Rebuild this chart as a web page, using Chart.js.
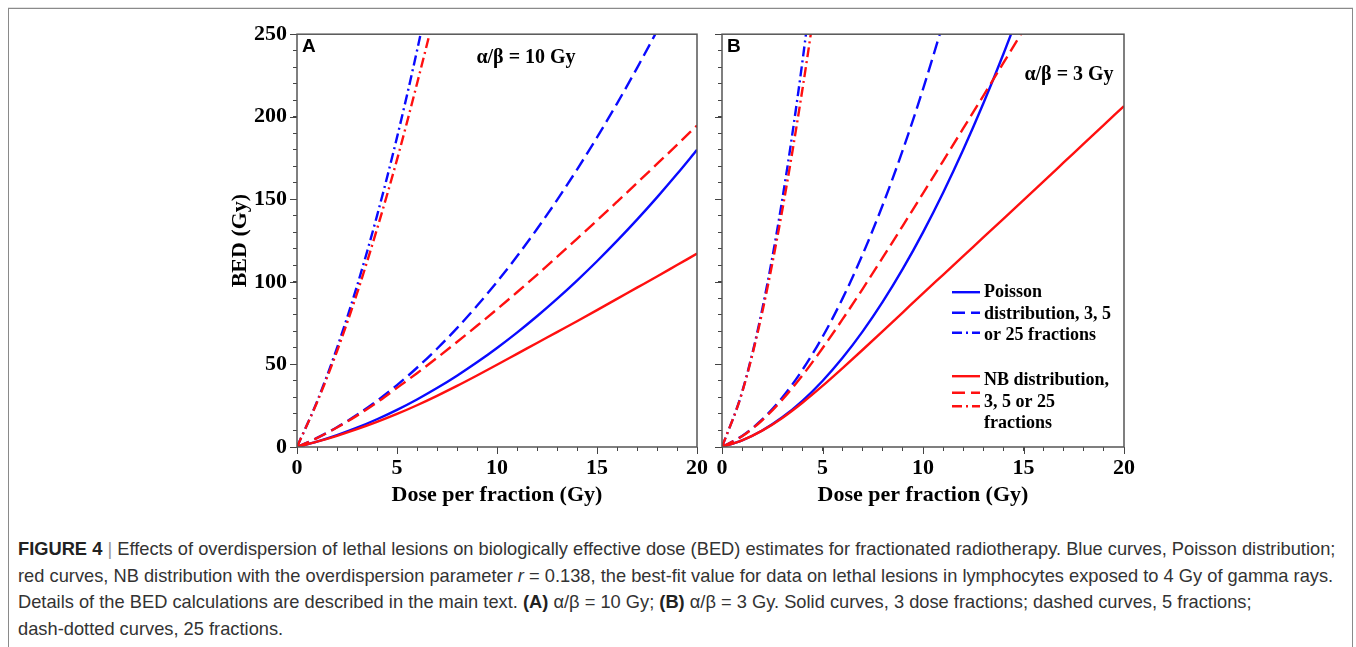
<!DOCTYPE html>
<html>
<head>
<meta charset="utf-8">
<script src="https://cdn.jsdelivr.net/npm/chart.js@4.4.1/dist/chart.umd.min.js"></script>
<style>
  body { margin: 0; background: #fff; width: 1356px; height: 647px; overflow: hidden; position: relative; }
  .frame { position: absolute; left: 8px; top: 8px; width: 1343px; height: 700px;
           border: 1.5px solid #8a8a8a; box-shadow: 0 -1px 0 #e2e2e2; }
  .panel { position: absolute; top: 15px; }
  #wrapA { left: 200px; }
  #wrapB { left: 640px; }
  .caption { position: absolute; left: 18px; top: 536px; color: #333; transform-origin: 0 0;
             font-family: "Liberation Sans Narrow", "Arial Narrow", "Liberation Sans", sans-serif;
             font-size: 19px; line-height: 26.5px; white-space: nowrap; }
  .caption b { color: #222; }
  .caption .bar { color: #999; font-weight: normal; }
</style>
</head>
<body>
<div class="frame"></div>
<div class="panel" id="wrapA"><canvas id="chartA" width="520" height="505"></canvas></div>
<div class="panel" id="wrapB"><canvas id="chartB" width="510" height="505"></canvas></div>
<div class="caption" id="caption">
  <div id="capFirst"><b>FIGURE 4</b> <span class="bar">|</span> Effects of overdispersion of lethal lesions on biologically effective dose (BED) estimates for fractionated radiotherapy. Blue curves, Poisson distribution;</div>
  <div>red curves, NB distribution with the overdispersion parameter <i>r</i> = 0.138, the best-fit value for data on lethal lesions in lymphocytes exposed to 4 Gy of gamma rays.</div>
  <div>Details of the BED calculations are described in the main text. <b>(A)</b> α/β = 10 Gy; <b>(B)</b> α/β = 3 Gy. Solid curves, 3 dose fractions; dashed curves, 5 fractions;</div>
  <div>dash-dotted curves, 25 fractions.</div>
</div>

<script>
// dose per fraction (Gy), shared x values
const doses = [0, 1, 2, 3, 4, 5, 6, 7, 8, 9, 10, 11, 12, 13, 14, 15, 16, 17, 18, 19, 20];

// Panel A, alpha/beta = 10 Gy (BED, Gy)
const poisson3A  = [0, 3.3, 7.2, 11.7, 16.8, 22.5, 28.8, 35.7, 43.2, 51.3, 60, 69.3, 79.2, 89.7, 100.8, 112.5, 124.8, 137.7, 151.2, 165.3, 180];
const poisson5A  = [0, 5.5, 12, 19.5, 28, 37.5, 48, 59.5, 72, 85.5, 100, 115.5, 132, 149.5, 168, 187.5, 208, 229.5, 252, 275.5];
const poisson25A = [0, 27.5, 60, 97.5, 140, 187.5, 240, 297.5];
const nb3A       = [0, 3.2, 6.8, 10.8, 15.2, 20, 25.3, 31, 37, 43.3, 49.8, 56.4, 63, 69.6, 76.2, 82.9, 89.7, 96.5, 103.3, 110.2, 117.1];
const nb5A       = [0, 5.4, 11.8, 19, 27, 35.8, 44.7, 54, 63.6, 73.4, 83.4, 93.7, 104.3, 115.1, 126.1, 137.2, 148.5, 159.9, 171.4, 183, 194.7];
const nb25A      = [0, 27, 58, 93, 132, 174, 220, 268];

// Panel B, alpha/beta = 3 Gy (BED, Gy)
const poisson3B  = [0, 4, 10, 18, 28, 40, 54, 70, 88, 108, 130, 154, 180, 208, 238, 270];
const poisson5B  = [0, 6.7, 16.7, 30, 46.7, 66.7, 90, 116.7, 146.7, 180, 216.7, 256.7];
const poisson25B = [0, 33.3, 83.3, 150, 233.3, 333.3];
const nb3B       = [0, 4, 9.9, 17.6, 26.8, 37, 47.8, 58.9, 70.2, 81.6, 93, 104.3, 115.6, 126.9, 138.2, 149.5, 160.9, 172.3, 183.7, 195.1, 206.5];
const nb5B       = [0, 6.5, 16.2, 28.7, 43.3, 59.8, 77.4, 95.8, 114.8, 134.1, 153.6, 173.2, 192.9, 212.7, 232.6, 252.6];
const nb25B      = [0, 33, 81.5, 143.5, 216.5, 298.5];

// tick labels
const xTickLabels = [0, 5, 10, 15, 20];
const yTickLabels = [0, 50, 100, 150, 200, 250];

const BLUE = '#0a0aff';
const RED  = '#ff1010';
const DASH = [13, 6];
const DASHDOT = [10, 4, 2, 4];
const SERIF = '"Liberation Serif", "Times New Roman", serif';

// no narrow sans installed: squeeze the caption to the width of the original
const capFirst = document.getElementById('capFirst');
const capScale = 1317 / capFirst.scrollWidth;
document.getElementById('caption').style.transform = 'scaleX(' + Math.min(1, capScale) + ')';

function series(values, color, dash) {
  return {
    data: values.map((v, i) => ({ x: doses[i], y: v })),
    borderColor: color,
    borderWidth: 2.4,
    borderDash: dash,
    pointRadius: 0,
    fill: false,
    cubicInterpolationMode: 'monotone'
  };
}

// box round the plot + longer major ticks
const framePlugin = {
  id: 'frame',
  afterDraw(chart) {
    const { ctx, chartArea: a, scales } = chart;
    ctx.save();
    ctx.strokeStyle = '#444';
    ctx.lineWidth = 1;
    ctx.beginPath();
    xTickLabels.forEach(v => {
      const px = Math.round(scales.x.getPixelForValue(v)) + 0.5;
      ctx.moveTo(px, a.bottom); ctx.lineTo(px, a.bottom + 7);
    });
    yTickLabels.forEach(v => {
      const py = Math.round(scales.y.getPixelForValue(v)) + 0.5;
      ctx.moveTo(a.left - 7, py); ctx.lineTo(a.left, py);
    });
    ctx.stroke();
    ctx.strokeStyle = '#555';
    ctx.lineWidth = 1.5;
    ctx.strokeRect(a.left, a.top, a.right - a.left, a.bottom - a.top);
    ctx.restore();
  }
};

// panel letter, alpha/beta note and (panel B) the legend
const notesPlugin = {
  id: 'notes',
  afterDraw(chart, args, opts) {
    const { ctx, chartArea: a } = chart;
    ctx.save();
    ctx.fillStyle = '#000';
    ctx.textBaseline = 'top';
    ctx.textAlign = 'left';
    ctx.font = 'bold 19px "Liberation Sans", Arial, sans-serif';
    ctx.fillText(opts.letter, a.left + 5, a.top + 3);
    ctx.textBaseline = 'middle';
    ctx.textAlign = 'center';
    ctx.font = 'bold 20px ' + SERIF;
    ctx.fillText(opts.note, a.left + opts.noteX, a.top + opts.noteY);

    if (opts.legend) {
      const rows = [
        { color: BLUE, lines: [[258, []], [278.5, DASH], [298.5, DASHDOT]],
          text: [[258, 'Poisson'], [280, 'distribution, 3, 5'], [301, 'or 25 fractions']] },
        { color: RED, lines: [[342, []], [358.5, DASH], [372, DASHDOT]],
          text: [[346, 'NB distribution,'], [368, '3, 5 or 25'], [389, 'fractions']] }
      ];
      ctx.textAlign = 'left';
      ctx.font = 'bold 18px ' + SERIF;
      rows.forEach(r => {
        ctx.strokeStyle = r.color;
        ctx.lineWidth = 2.4;
        r.lines.forEach(([dy, dash]) => {
          ctx.setLineDash(dash);
          ctx.beginPath();
          ctx.moveTo(a.left + 230, a.top + dy);
          ctx.lineTo(a.left + 258, a.top + dy);
          ctx.stroke();
        });
        ctx.setLineDash([]);
        r.text.forEach(([dy, t]) => ctx.fillText(t, a.left + 262, a.top + dy));
      });
    }
    ctx.restore();
  }
};

function makePanel(id, datasets, o) {
  return new Chart(document.getElementById(id), {
    type: 'line',
    data: { datasets },
    plugins: [framePlugin, notesPlugin],
    options: {
      responsive: false,
      animation: false,
      devicePixelRatio: 1,
      layout: { padding: { top: 13, right: o.padRight, left: 0, bottom: 0 } },
      plugins: {
        legend: { display: false },
        tooltip: { enabled: false },
        notes: o.notes
      },
      scales: {
        x: {
          type: 'linear', min: 0, max: 20,
          border: { display: false },
          grid: { drawOnChartArea: false, tickLength: 4, color: '#444', lineWidth: 1 },
          ticks: {
            stepSize: 1, autoSkip: false, maxRotation: 0, padding: 4, color: '#000',
            font: { family: SERIF, weight: 'bold', size: 22 },
            callback: v => xTickLabels.includes(v) ? String(v) : ''
          },
          title: {
            display: true, text: 'Dose per fraction (Gy)', color: '#000',
            font: { family: SERIF, weight: 'bold', size: 22 },
            padding: { top: 0, bottom: 11 }
          },
          afterFit: s => { s.height = 73; }
        },
        y: {
          type: 'linear', min: 0, max: 250,
          border: { display: false },
          grid: { drawOnChartArea: false, tickLength: 4, color: '#444', lineWidth: 1 },
          ticks: {
            stepSize: 10, autoSkip: false, padding: 6, color: '#000',
            font: { family: SERIF, weight: 'bold', size: 22 },
            callback: v => (o.yLabels && yTickLabels.includes(v)) ? String(v) : ''
          },
          title: {
            display: o.yLabels, text: 'BED (Gy)', color: '#000',
            font: { family: SERIF, weight: 'bold', size: 22 },
            padding: { top: 27, bottom: 0 }
          },
          afterFit: s => { s.width = o.yWidth; }
        }
      }
    }
  });
}

makePanel('chartA', [
  series(nb3A, RED, []),
  series(nb5A, RED, DASH),
  series(nb25A, RED, DASHDOT),
  series(poisson3A, BLUE, []),
  series(poisson5A, BLUE, DASH),
  series(poisson25A, BLUE, DASHDOT)
], {
  padRight: 23, yWidth: 97, yLabels: true,
  notes: { letter: 'A', note: 'α/β = 10 Gy', noteX: 229, noteY: 24, legend: false }
});

makePanel('chartB', [
  series(nb3B, RED, []),
  series(nb5B, RED, DASH),
  series(nb25B, RED, DASHDOT),
  series(poisson3B, BLUE, []),
  series(poisson5B, BLUE, DASH),
  series(poisson25B, BLUE, DASHDOT)
], {
  padRight: 26, yWidth: 82, yLabels: false,
  notes: { letter: 'B', note: 'α/β = 3 Gy', noteX: 347, noteY: 41, legend: true }
});
</script>
</body>
</html>
